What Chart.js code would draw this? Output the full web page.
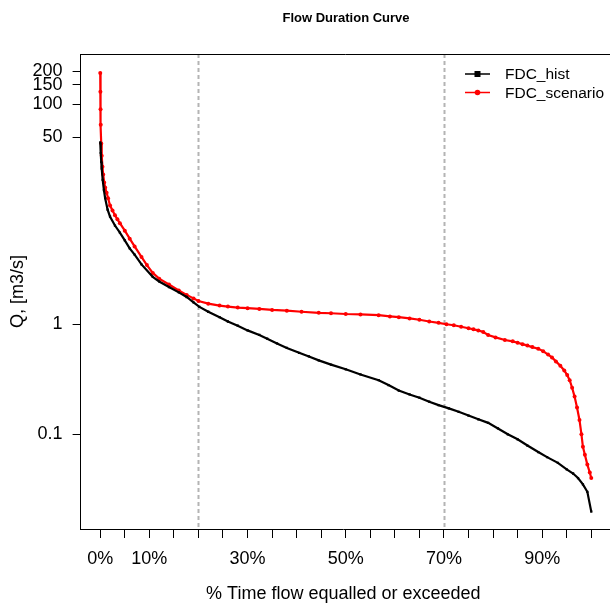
<!DOCTYPE html>
<html>
<head>
  <title>Flow Duration Curve</title>
  <script src="https://cdn.jsdelivr.net/npm/chart.js"></script>
  <style>
    html, body { margin: 0; padding: 0; background: #fff; overflow: hidden; }
    #wrap { width: 610px; height: 605px; position: relative; }
  </style>
</head>
<body>
<div id="wrap"><canvas id="fdc_chart"></canvas></div>

<script>
  // exceedance % and flow
  var histPct = [0, 0.1, 0.2, 0.3, 0.5, 0.75, 1, 1.5, 2, 3, 4, 5, 6, 7, 8.4, 10.7, 12, 14, 16, 17.6, 19, 20.2, 22, 24.3, 26, 28, 30, 32.4, 34, 36, 38, 40.5, 42.5, 44.5, 47, 50, 53, 56.7, 58.7, 60.8, 63, 65, 67, 68.9, 71, 73, 75, 77, 79, 81, 83, 85, 87, 89.2, 91, 93.2, 95, 96.3, 97.3, 98.3, 99.2, 100];
  var histQ = [45, 36, 30, 26, 20.5, 16.6, 14, 11, 9.5, 7.9, 6.8, 5.8, 4.9, 4.3, 3.5, 2.7, 2.45, 2.18, 1.95, 1.77, 1.58, 1.44, 1.3, 1.16, 1.06, 0.97, 0.88, 0.80, 0.74, 0.67, 0.61, 0.55, 0.51, 0.47, 0.43, 0.39, 0.35, 0.31, 0.28, 0.25, 0.23, 0.215, 0.198, 0.184, 0.172, 0.16, 0.148, 0.137, 0.127, 0.113, 0.1, 0.09, 0.079, 0.069, 0.062, 0.055, 0.048, 0.044, 0.040, 0.035, 0.030, 0.0198];

  var scenPct = [0, 0.03, 0.06, 0.1, 0.2, 0.3, 0.45, 0.6, 0.8, 1.0, 1.3, 1.6, 2, 2.5, 3, 3.5, 4, 5, 6, 7, 8.4, 9.5, 10.7, 12, 14, 16, 17.6, 19, 20, 22, 24.3, 26, 28, 30, 32.4, 35, 38, 41, 44.5, 47, 50, 53, 56.7, 59, 60.8, 63, 65, 67, 68.9, 70.5, 72, 73.5, 75, 76, 77, 78, 79, 80.5, 82.4, 84, 85, 86, 87, 88, 89.2, 90.2, 91.2, 92, 92.8, 93.7, 94.5, 95.1, 95.6, 96.1, 96.6, 97.1, 97.6, 98, 98.3, 98.7, 99.2, 99.7, 100];
  var scenQ = [192, 130, 90, 65, 44, 34, 27, 23, 19.5, 17.5, 15.7, 14, 12, 10.8, 9.8, 9, 8.3, 7.1, 6, 5.1, 4.1, 3.45, 2.93, 2.6, 2.3, 2.03, 1.85, 1.72, 1.63, 1.54, 1.48, 1.45, 1.42, 1.4, 1.38, 1.35, 1.33, 1.3, 1.27, 1.26, 1.24, 1.23, 1.21, 1.18, 1.16, 1.13, 1.10, 1.06, 1.03, 1.0, 0.98, 0.95, 0.92, 0.9, 0.88, 0.85, 0.80, 0.76, 0.72, 0.70, 0.68, 0.66, 0.64, 0.62, 0.60, 0.57, 0.53, 0.5, 0.46, 0.42, 0.38, 0.345, 0.31, 0.265, 0.22, 0.175, 0.135, 0.1, 0.077, 0.065, 0.053, 0.045, 0.040];

  var xTicks = [0, 5, 10, 15, 20, 25, 30, 35, 40, 45, 50, 55, 60, 65, 70, 75, 80, 85, 90, 95, 100];
  var xLabelled = [0, 10, 30, 50, 70, 90];
  var yTicks = [0.1, 1, 50, 100, 150, 200];
  var refLines = [20, 70];

  var FONT = "'Liberation Sans', Arial, sans-serif";

  function toPoints(xs, ys) {
    return xs.map(function (x, i) { return { x: x, y: ys[i] }; });
  }

  // title, frame, dotted verticals and legend
  var extras = {
    id: 'extras',
    beforeDatasetsDraw: function (chart) {
      var ctx = chart.ctx, a = chart.chartArea, xs = chart.scales.x;
      ctx.save();
      ctx.strokeStyle = '#b4b4b4';
      ctx.lineWidth = 2;
      ctx.setLineDash([4, 3]);
      refLines.forEach(function (v) {
        var px = Math.round(xs.getPixelForValue(v)) + 0.5;
        ctx.beginPath();
        ctx.moveTo(px, a.top);
        ctx.lineTo(px, a.bottom);
        ctx.stroke();
      });
      ctx.restore();
    },
    afterDraw: function (chart) {
      var ctx = chart.ctx, a = chart.chartArea;
      ctx.save();
      ctx.strokeStyle = '#000';
      ctx.lineWidth = 1;
      ctx.beginPath();
      ctx.moveTo(a.left, a.top + 0.5);
      ctx.lineTo(chart.width, a.top + 0.5);
      ctx.moveTo(a.right - 1, Math.round(a.bottom) + 0.5);
      ctx.lineTo(chart.width, Math.round(a.bottom) + 0.5);
      ctx.stroke();

      ctx.fillStyle = '#000';
      ctx.font = 'bold 13px ' + FONT;
      ctx.textAlign = 'center';
      ctx.textBaseline = 'middle';
      ctx.fillText('Flow Duration Curve', 346, 18);

      // legend
      var items = [
        { label: 'FDC_hist', color: '#000', shape: 'rect' },
        { label: 'FDC_scenario', color: '#ff0000', shape: 'circle' }
      ];
      ctx.font = '15.5px ' + FONT;
      ctx.textAlign = 'left';
      items.forEach(function (it, i) {
        var y = 74 + i * 18.5;
        ctx.strokeStyle = it.color;
        ctx.fillStyle = it.color;
        ctx.lineWidth = 1.5;
        ctx.beginPath();
        ctx.moveTo(465, y);
        ctx.lineTo(490, y);
        ctx.stroke();
        if (it.shape === 'rect') {
          ctx.fillRect(474.5, y - 3, 6, 6);
        } else {
          ctx.beginPath();
          ctx.arc(477.5, y, 2.8, 0, Math.PI * 2);
          ctx.fill();
        }
        ctx.fillStyle = '#000';
        ctx.fillText(it.label, 505, y + 1);
      });
      ctx.restore();
    }
  };

  var ctx = document.getElementById('fdc_chart').getContext('2d');
  var fdcChart = new Chart(ctx, {
    type: 'line',
    data: {
      datasets: [{
        label: 'FDC_hist',
        data: toPoints(histPct, histQ),
        borderColor: '#000',
        backgroundColor: '#000',
        borderWidth: 2.2,
        pointStyle: 'rect',
        pointRadius: 1.6,
        pointBorderWidth: 0,
        tension: 0
      }, {
        label: 'FDC_scenario',
        data: toPoints(scenPct, scenQ),
        borderColor: '#ff0000',
        backgroundColor: '#ff0000',
        borderWidth: 2.2,
        pointStyle: 'circle',
        pointRadius: 2,
        pointBorderWidth: 0,
        tension: 0
      }]
    },
    options: {
      responsive: true,
      maintainAspectRatio: false,
      animation: false,
      layout: { padding: { top: 54, right: 0, bottom: 0, left: 0 } },
      plugins: {
        legend: { display: false },
        title: { display: false },
        tooltip: { enabled: false }
      },
      scales: {
        x: {
          type: 'linear',
          min: -4,
          max: 103,
          afterFit: function (s) { s.height = 76; },
          afterBuildTicks: function (s) {
            s.ticks = xTicks.map(function (v) { return { value: v }; });
          },
          ticks: {
            autoSkip: false,
            maxRotation: 0,
            color: '#000',
            padding: 10,
            font: { family: FONT, size: 18 },
            callback: function (v) { return xLabelled.indexOf(v) >= 0 ? v + '%' : ''; }
          },
          grid: { drawOnChartArea: false, drawTicks: true, tickLength: 9, tickColor: '#000' },
          border: { display: true, color: '#000', width: 1 },
          title: {
            display: true,
            text: '% Time flow equalled or exceeded',
            color: '#000',
            font: { family: FONT, size: 18 },
            padding: { top: 0, bottom: 0 }
          }
        },
        y: {
          type: 'logarithmic',
          min: 0.01377,
          max: 286.5,
          afterFit: function (s) { s.width = 80.6; },
          afterBuildTicks: function (s) {
            s.ticks = yTicks.map(function (v) { return { value: v }; });
          },
          ticks: {
            autoSkip: false,
            color: '#000',
            padding: 10,
            font: { family: FONT, size: 18 },
            callback: function (v) { return String(v); }
          },
          grid: { drawOnChartArea: false, drawTicks: true, tickLength: 8, tickColor: '#000' },
          border: { display: true, color: '#000', width: 1 },
          title: {
            display: true,
            text: 'Q, [m3/s]',
            color: '#000',
            font: { family: FONT, size: 18 },
            padding: { top: 7, bottom: 0 }
          }
        }
      }
    },
    plugins: [extras]
  });
</script>
</body>
</html>
